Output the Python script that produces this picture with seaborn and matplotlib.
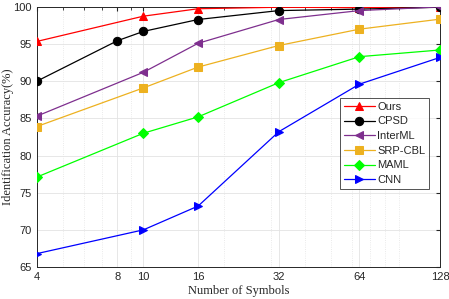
import numpy as np
import pandas as pd
import matplotlib
matplotlib.use("Agg")
import matplotlib.pyplot as plt
import seaborn as sns
from matplotlib.ticker import FixedLocator, LogLocator, NullFormatter

# Data
x_main = [4, 10, 16, 32, 64, 128]
x_cpsd = [4, 8, 10, 16, 32, 64, 128]
ours = [95.35, 98.75, 99.75, 99.95, 99.9, 100.0]
cpsd = [90.0, 95.45, 96.7, 98.3, 99.5, 99.7, 99.95]
interml = [85.3, 91.2, 95.1, 98.3, 99.5, 100.0]
srp_cbl = [83.9, 89.1, 91.9, 94.8, 97.0, 98.35]
maml = [77.1, 83.0, 85.2, 89.8, 93.3, 94.2]
cnn = [66.8, 70.0, 73.2, 83.2, 89.6, 93.2]

x_ticks = [4, 8, 10, 16, 32, 64, 128]
y_ticks = [65, 70, 75, 80, 85, 90, 95, 100]

sns.set_style("white")
plt.rcParams['font.family'] = ['Liberation Sans', 'DejaVu Sans']

fig = plt.figure(figsize=(4.49, 2.99), dpi=100)
ax = fig.add_axes([0.082, 0.107, 0.898, 0.87])

# name, x, y, color, marker, size
series = [
    ("Ours", x_main, ours, "#FF0000", "^", 6),
    ("CPSD", x_cpsd, cpsd, "#000000", "o", 6),
    ("InterML", x_main, interml, "#7E2F8E", "<", 6),
    ("SRP-CBL", x_main, srp_cbl, "#EDB120", "s", 6),
    ("MAML", x_main, maml, "#00FF00", "D", 5.5),
    ("CNN", x_main, cnn, "#0000FF", ">", 6),
]

for name, xs, ys, col, mk, ms in series:
    sns.lineplot(x=xs, y=ys, ax=ax, color=col, marker=mk, markersize=ms,
                 markeredgecolor=col, markerfacecolor=col, linewidth=0.9,
                 label=name, zorder=3)

ax.set_xscale("log", base=2)
ax.set_xlim(4, 128)
ax.set_ylim(65, 100)
ax.xaxis.set_major_locator(FixedLocator(x_ticks))
ax.set_xticklabels([str(t) for t in x_ticks])
ax.xaxis.set_minor_locator(LogLocator(base=10, subs=np.arange(2, 10)))
ax.xaxis.set_minor_formatter(NullFormatter())
ax.set_yticks(y_ticks)

ax.grid(True, which="major", color="#e3e3e3", linewidth=0.6, linestyle="-")
ax.grid(True, which="minor", axis="x", color="#e3e3e3", linewidth=0.6, linestyle=":")
ax.tick_params(which="both", direction="in", top=True, right=True,
               labelsize=8, colors="#262626", length=3)
ax.tick_params(which="minor", length=2)
for s in ax.spines.values():
    s.set_color("#262626")
    s.set_linewidth(0.7)

ax.set_xlabel("Number of Symbols", family=["Liberation Serif"], fontsize=9, labelpad=2)
ax.set_ylabel("Identification Accuracy(%)", family=["Liberation Serif"], fontsize=9)
ax.yaxis.set_label_coords(-0.057, 0.5)

leg = ax.legend(loc="lower right", bbox_to_anchor=(0.973, 0.3), fontsize=8,
                frameon=True, fancybox=False, edgecolor="#262626",
                handlelength=2.8, borderpad=0.35, labelspacing=0.42,
                handletextpad=0.2, borderaxespad=0)
leg.get_frame().set_linewidth(0.7)

fig.savefig("out.png", dpi=100)
